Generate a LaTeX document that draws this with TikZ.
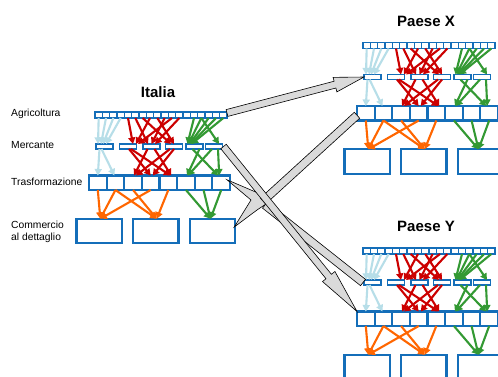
\documentclass[tikz,border=0pt]{standalone}
\usepackage{fontspec}
\setmainfont{Liberation Sans}
\usetikzlibrary{arrows.meta,calc}
\definecolor{boxblue}{RGB}{20,110,185}
\definecolor{lblue}{RGB}{183,222,232}
\definecolor{dred}{RGB}{204,0,0}
\definecolor{dgreen}{RGB}{51,153,51}
\definecolor{orng}{RGB}{255,102,0}
\definecolor{gfill}{RGB}{218,218,218}

\newcommand\cluster[2]{%
\begin{scope}[shift={#2}, name prefix=#1-]
 \foreach \i in {1,...,18} \node[asq] (a\i) at ({95+7.333*(\i-0.5)},115) {};
 \foreach \xx [count=\i] in {104.5,128,151.5,174,194.5,214} \node[msq] (m\i) at (\xx,146.5) {};
 \foreach \i in {1,...,8} \node[tsq] (t\i) at ({89+17.625*(\i-0.5)},182.75) {};
 \foreach \xx [count=\i] in {99.3,155.7,212.5} \node[csq] (c\i) at (\xx,231) {};
 % light blue
 \foreach \s/\dx in {1/-6.5,2/-3.5,3/-1.5,4/1.5} \draw[lb] (a\s.south) -- ([xshift=\dx pt]m1.north);
 \draw[lb] ([xshift=-5pt]m1.south) -- ([xshift=0pt]t1.north);
 \draw[lb] ([xshift=-3pt]m1.south) -- ([xshift=-1pt]t2.north);
 % red top
 \foreach \s/\t/\dx in {5/2/5,6/3/-3.5,7/4/-3,8/2/8,9/4/0,10/3/0,11/2/10,12/3/3.5}
   \draw[rd] (a\s.south) -- ([xshift=\dx pt]m\t.north);
 % red bottom
 \foreach \s/\sx/\t/\dx in {2/3/5/2,2/1/4/0,3/-4/3/1,3/3/5/3,4/-4/3/3,4/0/4/2}
   \draw[rd] ([xshift=\sx pt]m\s.south) -- ([xshift=\dx pt]t\t.north);
 % green top
 \foreach \s/\t/\dx in {14/5/-7,15/5/-6,16/5/-5,17/5/-4,18/5/-3,15/6/5}
   \draw[gr] (a\s.south) -- ([xshift=\dx pt]m\t.north);
 % green bottom
 \foreach \s/\sx/\t/\dx in {5/5/6/1,6/-2/6/2,5/-2/8/-3,6/4/8/-2}
   \draw[gr] ([xshift=\sx pt]m\s.south) -- ([xshift=\dx pt]t\t.north);
 % orange
 \foreach \s/\t in {1/1,2/1,2/2,3/2,4/1,5/2}
   \draw[og] (t\s.south) -- ([xshift=1pt]c\t.north);
 % green to retail
 \foreach \s in {6,7,8} \draw[gr] (t\s.south) -- ([xshift=-2pt]c3.north);
\end{scope}}

\newcommand\blockarrow[5]{%
 \coordinate (bah) at ($(#2)!#5!(#1)$);
 \draw[gshape] ($(#1)!#3!90:(#2)$) -- ($(bah)!#3!90:(#2)$) -- ($(bah)!#4!90:(#2)$) -- (#2)
   -- ($(bah)!#4!-90:(#2)$) -- ($(bah)!#3!-90:(#2)$) -- ($(#1)!#3!-90:(#2)$) -- cycle;}

\newcommand\flatband[3]{%
 \draw[gshape] ($(#1)!#3!90:(#2)$) -- ($(#2)!#3!-90:(#1)$) -- ($(#2)!#3!90:(#1)$) -- ($(#1)!#3!-90:(#2)$) -- cycle;}

\begin{document}
\begin{tikzpicture}[x=1pt,y=-1pt,
 boxbase/.style={draw=boxblue, fill=white, inner sep=0pt, outer sep=0pt},
 asq/.style={boxbase, line width=1.6pt, minimum width=7.33pt, minimum height=6pt},
 msq/.style={boxbase, line width=1.7pt, minimum width=17pt, minimum height=5pt},
 tsq/.style={boxbase, line width=2.2pt, minimum width=17.6pt, minimum height=14.5pt},
 csq/.style={boxbase, line width=2.4pt, minimum width=45.5pt, minimum height=24.5pt},
 conn/.style={line width=2.1pt, -{Triangle[length=6.5pt,width=7pt]}},
 lb/.style={conn, draw=lblue}, rd/.style={conn, draw=dred},
 gr/.style={conn, draw=dgreen}, og/.style={conn, draw=orng},
 gshape/.style={fill=gfill, draw=black, line width=0.6pt, line join=miter},
 lbl/.style={anchor=west, font=\fontsize{10.3}{12}\selectfont, inner sep=0pt, align=left},
 ttl/.style={font=\bfseries\fontsize{15}{18}\selectfont, inner sep=0pt}
]
\clip (0,0) rectangle (498,376);
\fill[white] (0,0) rectangle (498,376);

\node[ttl] (tI) at (158,92) {Italia};
\node[ttl] (tX) at (426,21) {Paese X};
\node[ttl] (tY) at (426,226) {Paese Y};

\node[lbl] (l1) at (11,114) {Agricoltura};
\node[lbl] (l2) at (11,145) {Mercante};
\node[lbl] (l3) at (11,181.5) {Trasformazione};
\node[lbl] (l4) at (11,232) {Commercio\\al dettaglio};

\cluster{I}{(0,0)}
\cluster{X}{(268,-69.5)}
\cluster{Y}{(268,136)}

% gray connectors
\coordinate (aS) at ($(I-a18.east)+(0,-2)$);
\coordinate (aT) at (X-m1.west);
\coordinate (cS) at ($(I-m6.east)+(1,0)$);
\coordinate (cT) at (Y-t1.north west);
\coordinate (dS) at ($(X-t1.west)+(0,2)$);
\coordinate (dE) at (263,201);
\coordinate (bS) at (265,205);
\coordinate (bT) at ($(Y-m1.west)+(-1,0)$);
\coordinate (wt1) at ($(I-t8.east)+(-3,-3)$);
\coordinate (wt2) at ($(I-c3.east)+(-1,-4)$);
\coordinate (w1) at (258,193);
\coordinate (w2) at (266,204);
\coordinate (w3) at (257,210);
\coordinate (w4) at (251,200);

\draw[gshape] (wt1) -- (w1) -- (w2) -- (w3) -- (wt2) -- (w4) -- cycle;
\flatband{dS}{dE}{4pt}
\flatband{bS}{bT}{4pt}
\blockarrow{cS}{cT}{3.5pt}{8pt}{45pt}
\blockarrow{aS}{aT}{3.5pt}{7.5pt}{30pt}
\end{tikzpicture}
\end{document}
